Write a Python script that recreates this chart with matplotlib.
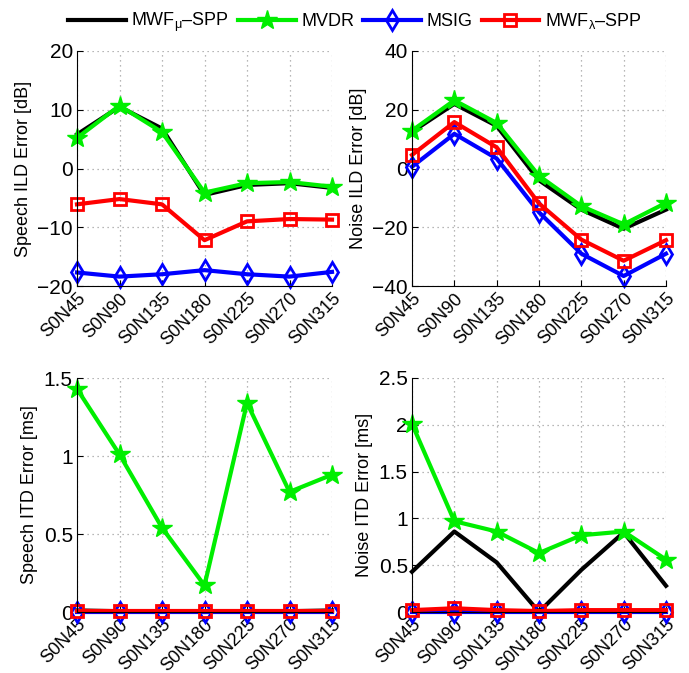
import numpy as np
import matplotlib
matplotlib.use("Agg")
import matplotlib.pyplot as plt

plt.rcParams['font.family'] = ['Liberation Sans', 'DejaVu Sans']
plt.rcParams['mathtext.fontset'] = 'custom'
plt.rcParams['mathtext.rm'] = 'Liberation Sans'
plt.rcParams['mathtext.it'] = 'Liberation Sans'

conditions = ['S0N45', 'S0N90', 'S0N135', 'S0N180', 'S0N225', 'S0N270', 'S0N315']

# Speech ILD error [dB]
speech_ild_mwf_mu = [5.8, 10.5, 6.8, -4.5, -2.8, -2.5, -3.3]
speech_ild_mvdr = [5.2, 10.7, 6.2, -4.1, -2.5, -2.3, -3.1]
speech_ild_msig = [-17.7, -18.4, -18.0, -17.3, -18.0, -18.4, -17.6]
speech_ild_mwf_lam = [-6.1, -5.2, -6.1, -12.2, -9.0, -8.6, -8.7]

# Noise ILD error [dB]
noise_ild_mwf_mu = [12.5, 22.0, 14.5, -4.0, -14.0, -20.5, -14.0]
noise_ild_mvdr = [12.9, 23.2, 15.5, -2.5, -12.8, -19.0, -11.7]
noise_ild_msig = [0.6, 11.8, 3.4, -14.9, -29.0, -36.6, -29.0]
noise_ild_mwf_lam = [4.6, 15.8, 7.2, -11.9, -24.2, -31.4, -24.4]

# Speech ITD error [ms]
speech_itd_mwf_mu = [0.01, 0.005, 0.005, 0.0, 0.005, 0.005, 0.01]
speech_itd_mvdr = [1.43, 1.01, 0.54, 0.17, 1.34, 0.77, 0.88]
speech_itd_msig = [0.0, 0.0, 0.0, 0.0, 0.0, 0.0, 0.0]
speech_itd_mwf_lam = [0.005, 0.005, 0.005, 0.005, 0.005, 0.005, 0.005]

# Noise ITD error [ms]
noise_itd_mwf_mu = [0.43, 0.86, 0.53, 0.0, 0.45, 0.85, 0.28]
noise_itd_mvdr = [2.01, 0.97, 0.86, 0.63, 0.82, 0.86, 0.56]
noise_itd_msig = [0.0, 0.0, 0.0, 0.0, 0.0, 0.0, 0.0]
noise_itd_mwf_lam = [0.02, 0.04, 0.02, 0.01, 0.02, 0.02, 0.02]

green = '#00ee00'

def draw(ax, mwf_mu, mvdr, msig, mwf_lam, ylim, yticks, ylabel):
    x = np.arange(len(conditions))
    h1, = ax.plot(x, mwf_mu, color='black', lw=3, label=r'MWF$_\mu$–SPP')
    h2, = ax.plot(x, mvdr, color=green, lw=3, marker='*', ms=15,
                  mfc=green, mec=green, label='MVDR')
    h3, = ax.plot(x, msig, color='#0000ff', lw=3, marker='d', ms=10,
                  mfc='none', mec='#0000ff', mew=2, label='MSIG')
    h4, = ax.plot(x, mwf_lam, color='#ff0000', lw=3, marker='s', ms=8.5,
                  mfc='none', mec='#ff0000', mew=2, label=r'MWF$_\lambda$–SPP')
    ax.set_xlim(0, len(conditions) - 1)
    ax.set_ylim(*ylim)
    ax.set_yticks(yticks)
    ax.set_xticks(x)
    ax.set_xticklabels(conditions, rotation=45, ha='right', rotation_mode='anchor')
    ax.set_ylabel(ylabel, fontsize=13)
    ax.grid(True, linestyle=(0, (1, 3)), color='#a0a0a0', lw=0.9)
    ax.spines['top'].set_visible(False)
    ax.spines['right'].set_visible(False)
    ax.spines['left'].set_linewidth(0.8)
    ax.spines['bottom'].set_linewidth(0.8)
    ax.tick_params(direction='in', length=4, width=0.8)
    ax.tick_params(axis='x', labelsize=13, pad=3)
    ax.tick_params(axis='y', labelsize=15, pad=3)
    for h in (h1, h2, h3, h4):
        h.set_clip_on(False)
    return [h1, h2, h3, h4]

fig = plt.figure(figsize=(6.89, 6.73), dpi=100)
W, H = 689, 673
def add(l, t, r, b):
    return fig.add_axes([l / W, 1 - b / H, (r - l) / W, (b - t) / H])

ax1 = add(77, 51, 332, 286)
ax2 = add(412, 51, 666, 286)
ax3 = add(77, 378, 332, 612)
ax4 = add(412, 378, 666, 612)

handles = draw(ax1, speech_ild_mwf_mu, speech_ild_mvdr, speech_ild_msig, speech_ild_mwf_lam,
               (-20, 20), [-20, -10, 0, 10, 20], 'Speech ILD Error [dB]')
draw(ax2, noise_ild_mwf_mu, noise_ild_mvdr, noise_ild_msig, noise_ild_mwf_lam,
     (-40, 40), [-40, -20, 0, 20, 40], 'Noise ILD Error [dB]')
draw(ax3, speech_itd_mwf_mu, speech_itd_mvdr, speech_itd_msig, speech_itd_mwf_lam,
     (0, 1.5), [0, 0.5, 1, 1.5], 'Speech ITD Error [ms]')
draw(ax4, noise_itd_mwf_mu, noise_itd_mvdr, noise_itd_msig, noise_itd_mwf_lam,
     (0, 2.5), [0, 0.5, 1, 1.5, 2, 2.5], 'Noise ITD Error [ms]')

ax3.set_yticklabels(['0', '0.5', '1', '1.5'])
ax4.set_yticklabels(['0', '0.5', '1', '1.5', '2', '2.5'])

fig.legend(handles=handles, loc='upper center', bbox_to_anchor=(0.515, 1.008), ncol=4,
           frameon=False, fontsize=13, handlelength=3.2, columnspacing=0.5,
           handletextpad=0.3)

fig.savefig('out.png', dpi=100)
